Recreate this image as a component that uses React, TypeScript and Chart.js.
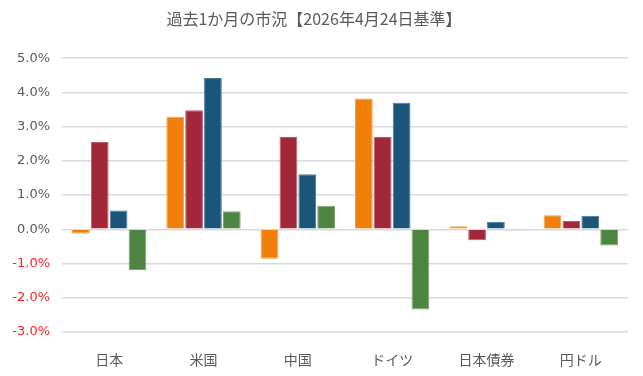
import React, { useEffect, useRef } from "react";
import { Chart, registerables } from "chart.js";

Chart.register(...registerables);

const categories = ["日本", "米国", "中国", "ドイツ", "日本債券", "円ドル"];
const series1 = [-0.12, 3.29, -0.86, 3.82, 0.09, 0.41];
const series2 = [2.55, 3.48, 2.7, 2.7, -0.32, 0.24];
const series3 = [0.55, 4.42, 1.61, 3.7, 0.22, 0.4];
const series4 = [-1.19, 0.53, 0.69, -2.34, -0.03, -0.47];
const titleText = "過去1か月の市況【2026年4月24日基準】";

const FONT = "'Noto Sans CJK JP', 'Noto Sans', sans-serif";
const NUMFONT = "'DejaVu Sans', 'Noto Sans CJK JP', sans-serif";

export default function App() {
  const ref = useRef<HTMLCanvasElement | null>(null);
  useEffect(() => {
    document.body.style.margin = "0";
    const ctx = ref.current!;
    const mk = (label: string, data: number[], color: string, border: string) => ({
      label,
      data,
      backgroundColor: color,
      borderColor: border,
      borderWidth: 1,
      categoryPercentage: 0.8,
      barPercentage: 0.94,
    });
    const chart = new Chart(ctx, {
      type: "bar",
      data: {
        labels: categories,
        datasets: [
          mk("s1", series1, "#F08009", "#F5A04A"),
          mk("s2", series2, "#A12839", "#C05A68"),
          mk("s3", series3, "#1B5579", "#4A7A99"),
          mk("s4", series4, "#4E8542", "#7DA570"),
        ],
      },
      options: {
        animation: false,
        responsive: false,
        layout: { padding: { left: 0, right: 15, top: 0, bottom: 0 } },
        plugins: {
          legend: { display: false },
          tooltip: { enabled: false },
          title: {
            display: true,
            text: titleText,
            color: "#595959",
            font: { family: FONT, size: 16, weight: "normal" },
            padding: { top: 9, bottom: 30 },
          },
        },
        scales: {
          x: {
            grid: { display: false },
            border: { display: false },
            ticks: {
              color: "#595959",
              font: { family: FONT, size: 14 },
              padding: 11,
            },
            afterFit: (s: any) => {
              s.height = 44;
            },
          },
          y: {
            min: -3,
            max: 5,
            grid: { color: "#d9d9d9", lineWidth: 1.5, drawTicks: false },
            border: { display: false },
            ticks: {
              stepSize: 1,
              padding: 12,
              font: { family: NUMFONT, size: 13 },
              color: (c: any) => (c.tick && c.tick.value < 0 ? "#FF2020" : "#595959"),
              callback: (v: any) => Number(v).toFixed(1) + "%",
            },
            afterFit: (s: any) => {
              s.width = 62;
            },
          },
        },
      },
    });
    return () => chart.destroy();
  }, []);
  return (
    <div style={{ position: "absolute", left: 0, top: 0, width: 643, height: 376, background: "#fff" }}>
      <canvas ref={ref} width={643} height={376} />
    </div>
  );
}
